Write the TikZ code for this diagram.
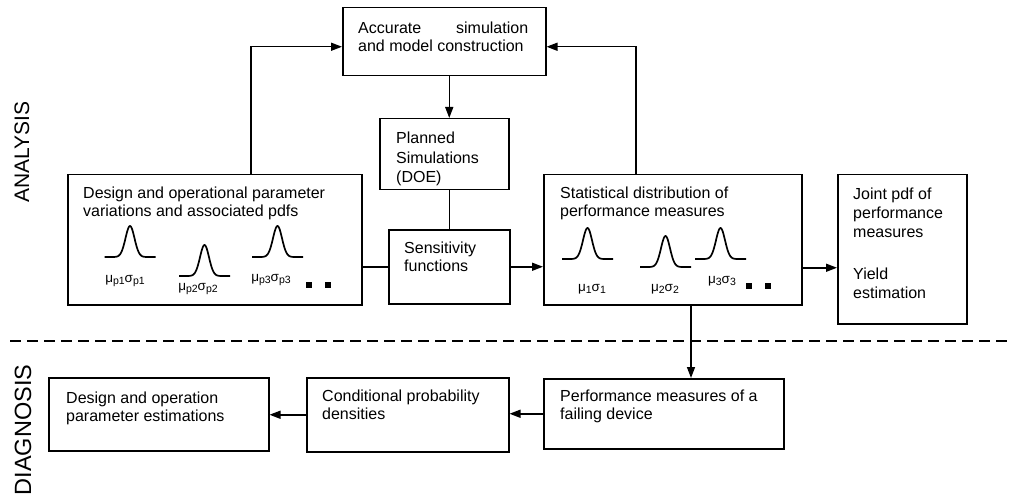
\documentclass[tikz,border=0pt]{standalone}
\usepackage{fontspec}
\setmainfont{Liberation Sans}
\usetikzlibrary{arrows.meta,calc}
% lowered, smaller index for the mu/sigma labels
\newcommand{\sbs}[1]{\raisebox{-0.4ex}{\fontsize{10.5}{10.5}\selectfont #1}}
\begin{document}
\begin{tikzpicture}[x=1pt,y=-1pt,
  box/.style={draw, line width=1.5pt, inner sep=0pt, anchor=north west},
  txt/.style={inner sep=0pt, anchor=north west, align=left,
              font=\fontsize{16}{17.5}\selectfont},
  side/.style={inner sep=0pt, rotate=90},
  conn/.style={line width=1.5pt},
  arr/.style={line width=1.5pt, -{Triangle[length=11pt,width=8pt]}},
  curve/.style={line width=1.7pt, line join=round},
  lbl/.style={inner sep=0pt, anchor=base, font=\fontsize{13.5}{13.5}\selectfont},
  dot/.style={fill, inner sep=0pt, minimum size=5.5pt},
  gauss/.pic={\draw[curve] plot[domain=-25.5:25.5, samples=81, smooth]
      (\x,{-31*exp(-((\x)*(\x))/40.5)});}
]
\useasboundingbox (0,0) rectangle (1009,497);

% ---- boxes ----
\node[box, minimum width=203pt, minimum height=68pt]  (acc)     at (342,7)   {};
\node[box, minimum width=129pt, minimum height=71pt]  (planned) at (379,118) {};
\node[box, minimum width=121pt, minimum height=74pt]  (sens)    at (388,229) {};
\node[box, minimum width=294pt, minimum height=130pt] (design)  at (67,174)  {};
\node[box, minimum width=258pt, minimum height=130pt] (stats)   at (543,174) {};
\node[box, minimum width=129pt, minimum height=149pt] (joint)   at (837,174) {};
\node[box, minimum width=220pt, minimum height=73pt]  (est)     at (48,377)  {};
\node[box, minimum width=202pt, minimum height=74pt]  (cond)    at (306,377) {};
\node[box, minimum width=240pt, minimum height=70pt]  (perf)    at (543,378) {};

% ---- box texts ----
\node[txt] (acct) at (358,22) {\makebox[170pt][s]{Accurate\hfill simulation}\\and model construction};
\node[txt, font=\fontsize{16}{19.5}\selectfont] (plant) at (396,132) {Planned\\Simulations\\(DOE)};
\node[txt] (senst) at (404,242) {Sensitivity\\functions};
\node[txt] (designt) at (83,187) {Design and operational parameter\\variations and associated pdfs};
\node[txt] (statst) at (560,187) {Statistical distribution of\\performance measures};
\node[txt, font=\fontsize{16}{19}\selectfont] (jointt) at (853,188) {Joint pdf of\\performance\\measures};
\node[txt, font=\fontsize{16}{19}\selectfont] (yieldt) at (853,268) {Yield\\estimation};
\node[txt] (estt) at (66,392) {Design and operation\\parameter estimations};
\node[txt] (condt) at (322,390) {Conditional probability\\densities};
\node[txt] (perft) at (560,390) {Performance measures of a\\failing device};

% ---- side headings ----
\node[side, font=\fontsize{21}{21}\selectfont] (ana) at (22,152) {ANALYSIS};
\node[side, font=\fontsize{23.5}{23.5}\selectfont] (diag) at (23,430) {DIAGNOSIS};

% ---- parameter pdfs ----
\pic at (130,257) {gauss};
\pic at (204.5,276) {gauss};
\pic at (277.5,257) {gauss};
\node[lbl] (m1) at (125,282) {μ\sbs{p1}σ\sbs{p1}};
\node[lbl] (m2) at (198,290) {μ\sbs{p2}σ\sbs{p2}};
\node[lbl] (m3) at (271,281) {μ\sbs{p3}σ\sbs{p3}};
\node[dot] (d1) at (309,285) {};
\node[dot] (d2) at (328,285) {};

% ---- performance pdfs ----
\pic at (587.5,259) {gauss};
\pic at (665.5,267) {gauss};
\pic at (720.5,259) {gauss};
\node[lbl] (s1) at (592,291) {μ\sbs{1}σ\sbs{1}};
\node[lbl] (s2) at (665,291) {μ\sbs{2}σ\sbs{2}};
\node[lbl] (s3) at (722,283) {μ\sbs{3}σ\sbs{3}};
\node[dot] (d3) at (749,286) {};
\node[dot] (d4) at (768,286) {};

% ---- connectors ----
\draw[arr] ([xshift=184pt]design.north west) |- ($(acc.west)+(0,5)$);
\draw[arr] ([xshift=93pt]stats.north west) |- ($(acc.east)+(0,5)$);
\draw[arr] (acc.south -| sens.north) -- (planned.north -| sens.north);
\draw[conn] (planned.south -| sens.north) -- (sens.north);
\draw[conn] (sens.west -| design.east) -- (sens.west);
\draw[arr] (sens.east) -- (sens.east -| stats.west);
\draw[arr] ($(sens.east -| stats.east)+(0,1)$) -- ($(sens.east -| joint.west)+(0,1)$);
\draw[arr] ([xshift=148pt]stats.south west) -- ([xshift=148pt]stats.south west |- perf.north);
\draw[arr] (perf.west) -- (perf.west -| cond.east);
\draw[arr] (cond.west) -- (cond.west -| est.east);

% ---- separator between the two phases ----
\coordinate (sepl) at (10,341);
\coordinate (sepr) at (1009,341);
\draw[line width=1.2pt, dash pattern=on 11pt off 6pt] (sepl) -- (sepr);
\end{tikzpicture}
\end{document}
